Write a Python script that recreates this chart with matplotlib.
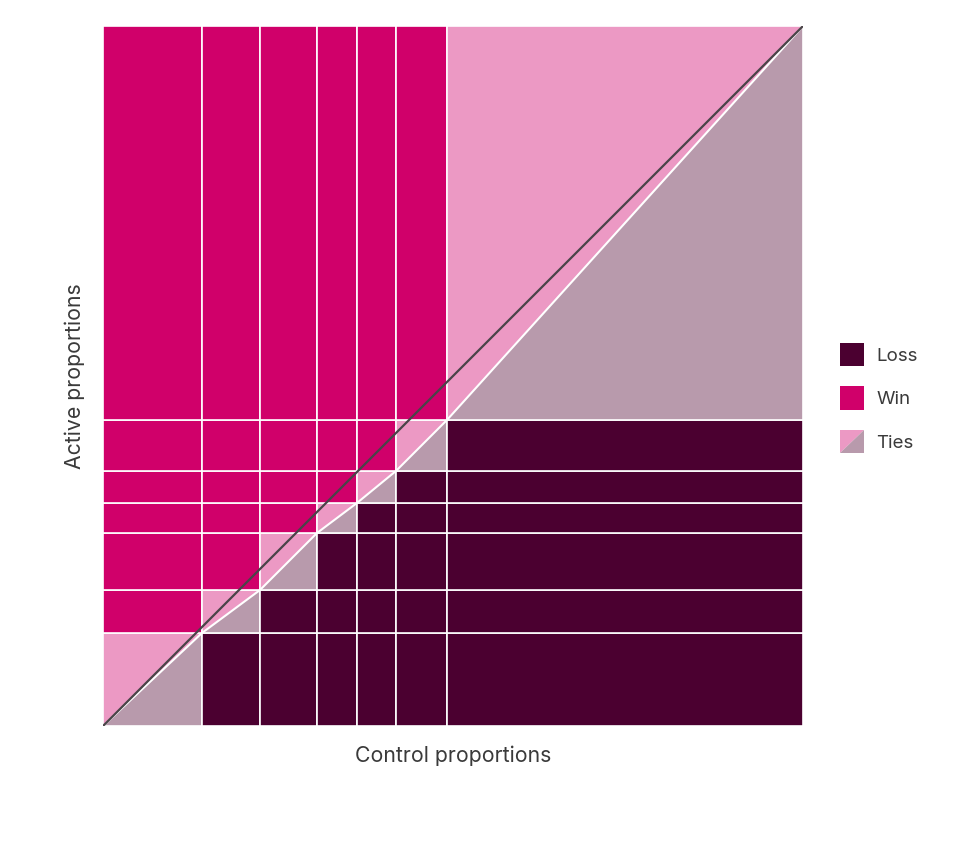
import matplotlib
matplotlib.use("Agg")
import matplotlib.pyplot as plt
import numpy as np
from matplotlib.patches import Rectangle, Polygon
from matplotlib.legend_handler import HandlerBase

plt.rcParams['font.family'] = ['Inter', 'DejaVu Sans']

# Category proportions
control_props = [0.1414, 0.0829, 0.0814, 0.0571, 0.0557, 0.0729, 0.5086]
active_props = [0.1329, 0.0614, 0.0814, 0.0429, 0.0457, 0.0729, 0.5628]
legend_labels = ["Loss", "Win", "Ties"]
x_label = "Control proportions"
y_label = "Active proportions"

LOSS = "#4b0030"
WIN = "#d0006a"
TIE_UP = "#ec99c4"
TIE_LO = "#b89aac"
TEXT = "#3a3a3a"

fig = plt.figure(figsize=(9.64, 8.46), dpi=100)
ax = fig.add_axes([103/964, 1-726/846, 700/964, 700/846])

cx = np.concatenate([[0], np.cumsum(control_props)])
cy = np.concatenate([[0], np.cumsum(active_props)])
cx = cx / cx[-1]
cy = cy / cy[-1]

n = len(control_props)
for i in range(n):
    x0, x1 = cx[i], cx[i+1]
    for j in range(n):
        y0, y1 = cy[j], cy[j+1]
        if j > i:
            ax.add_patch(Rectangle((x0, y0), x1-x0, y1-y0, facecolor=WIN,
                                   edgecolor="white", linewidth=1.2))
        elif j < i:
            ax.add_patch(Rectangle((x0, y0), x1-x0, y1-y0, facecolor=LOSS,
                                   edgecolor="white", linewidth=1.2))
        else:
            ax.add_patch(Polygon([(x0, y0), (x0, y1), (x1, y1)], closed=True,
                                 facecolor=TIE_UP, edgecolor="none"))
            ax.add_patch(Polygon([(x0, y0), (x1, y0), (x1, y1)], closed=True,
                                 facecolor=TIE_LO, edgecolor="none"))
            ax.add_patch(Rectangle((x0, y0), x1-x0, y1-y0, facecolor="none",
                                   edgecolor="white", linewidth=1.2))
            ax.plot([x0, x1], [y0, y1], color="white", linewidth=1.5,
                    solid_capstyle="butt")

ax.plot([0, 1], [0, 1], color="#4a4448", linewidth=1.6, zorder=5)

ax.set_xlim(0, 1)
ax.set_ylim(0, 1)
ax.set_xticks([])
ax.set_yticks([])
for s in ax.spines.values():
    s.set_visible(False)
ax.set_xlabel(x_label, fontsize=15.3, color=TEXT, labelpad=14)
ax.set_ylabel(y_label, fontsize=15.3, color=TEXT, labelpad=13)


class TieHandler(HandlerBase):
    def create_artists(self, legend, orig_handle, xdescent, ydescent,
                       width, height, fontsize, trans):
        x0, y0 = -xdescent, -ydescent
        up = Polygon([(x0, y0), (x0, y0+height), (x0+width, y0+height)],
                     closed=True, facecolor=TIE_UP, edgecolor="none",
                     transform=trans)
        lo = Polygon([(x0, y0), (x0+width, y0), (x0+width, y0+height)],
                     closed=True, facecolor=TIE_LO, edgecolor="none",
                     transform=trans)
        return [up, lo]


class TieProxy:
    pass


handles = [Rectangle((0, 0), 1, 1, facecolor=LOSS, edgecolor="none"),
           Rectangle((0, 0), 1, 1, facecolor=WIN, edgecolor="none"),
           TieProxy()]
leg = fig.legend(handles, legend_labels,
                 handler_map={TieProxy: TieHandler()},
                 loc="center left", bbox_to_anchor=(840/964, 1-398/846),
                 frameon=False, fontsize=13.5, handlelength=1.28,
                 handleheight=1.55, handletextpad=0.66, labelspacing=1.06,
                 borderpad=0, borderaxespad=0,
                 labelcolor=TEXT)

fig.savefig("out.png", dpi=100)
